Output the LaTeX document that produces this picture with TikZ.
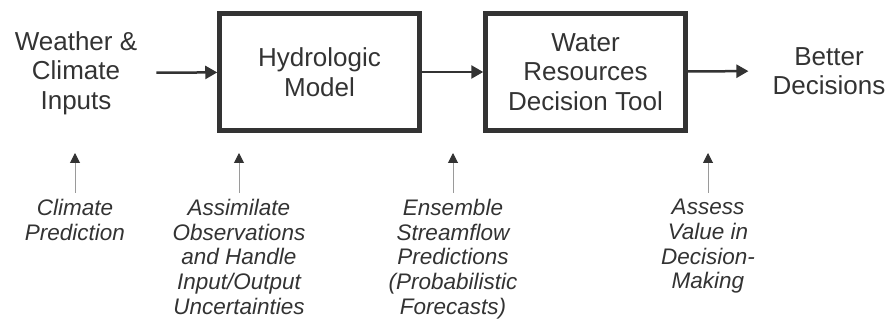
\documentclass[tikz,border=0pt]{standalone}
\usepackage{fontspec}
\setmainfont{Liberation Sans}
\usetikzlibrary{arrows.meta}
\definecolor{ink}{HTML}{333333}
\definecolor{stem}{HTML}{9A9A9A}

\begin{document}
\begin{tikzpicture}[x=1pt,y=-1pt,
  every node/.style={text=ink, align=center, inner sep=0pt},
  big/.style={font=\fontsize{26}{29.5}\selectfont},
  note/.style={font=\fontsize{22.5}{24.7}\selectfont\itshape, anchor=north},
  block/.style={big, draw=ink, line width=4.5pt, minimum width=200pt, minimum height=117pt},
  flow/.style={draw=ink, line width=2.5pt, -{Triangle[length=12pt,width=13pt]}},
  feed/.style={draw=stem, line width=1pt, -{Triangle[length=10pt,width=10pt,color=ink]}}]
 \useasboundingbox (0,0) rectangle (887,320);
 % top row
 \node[big]   (wci) at (76,73)    {Weather \&\\ Climate\\ Inputs};
 \node[block] (hm)  at (319.5,72) {Hydrologic\\ Model};
 \node[block] (wrt) at (585.5,72) {Water\\ Resources\\ Decision Tool};
 \node[big]   (bd)  at (829,71)   {Better\\ Decisions};
 % bottom row
 \node[note] (cp)  at (75,199)  {Climate\\ Prediction};
 \node[note] (ao)  at (239,199) {Assimilate\\ Observations\\ and Handle\\ Input/Output\\ Uncertainties};
 \node[note] (esp) at (453,199) {Ensemble\\ Streamflow\\ Predictions\\ (Probabilistic\\ Forecasts)};
 \node[note] (av)  at (708,199) {Assess\\ Value in\\ Decision-\\ Making};
 \coordinate (cp-t)  at (75,153);
 \coordinate (ao-t)  at (239,153);
 \coordinate (esp-t) at (453,153);
 \coordinate (av-t)  at (708,153);
 \draw[flow, shorten <=19pt] (wci) -- (hm);
 \draw[flow] (hm) -- (wrt);
 \draw[flow, shorten >=24pt] (wrt) -- (bd.west);
 \draw[feed, shorten <=6pt] (cp.north) -- (cp-t);
 \draw[feed, shorten <=6pt] (ao.north) -- (ao-t);
 \draw[feed, shorten <=6pt] (esp.north) -- (esp-t);
 \draw[feed, shorten <=6pt] (av.north) -- (av-t);
\end{tikzpicture}
\end{document}
